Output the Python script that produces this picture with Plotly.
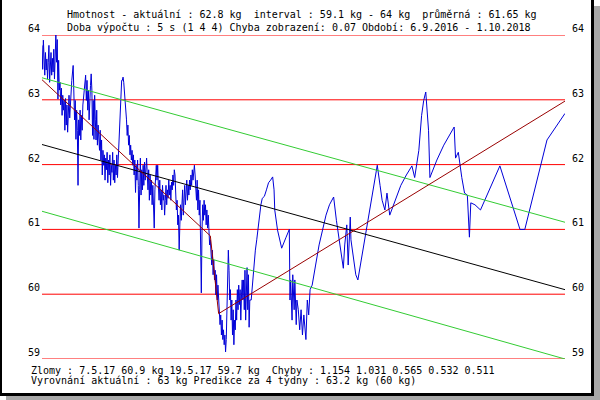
import pandas as pd
import plotly.graph_objects as go

START = "2016-09-06"
END = "2018-10-01"

# measured weight: day offset from start, kg
days = [0,1,2,3,4,5,6,7,8,9,10,11,12,13,14,15,16,17,18,19,20,21,22,23,24,
        25,26,27,28,29,30,31,32,33,34,35,36,37,38,39,40,41,43,45,46,47,48,49,50,51,52,53,54,55,56,57,58,59,61,63,64,65,66,67,68,69,70,71,72,73,74,75,76,77,78,79,80,81,82,
        83,84,85,86,87,88,89,90,91,92,93,94,95,96,97,98,99,100,101,102,103,104,105,106,107,108,109,110,111,112,113,114,115,
        116,117,118,119,120,121,122,123,124,125,126,127,128,129,130,131,132,133,134,135,136,137,138,139,140,141,142,
        143,144,145,146,147,148,149,150,151,152,153,154,155,156,157,158,159,160,161,162,163,164,165,166,167,168,169,170,171,172,173,174,175,176,177,178,179,180,181,182,183,184,185,186,187,188,189,190,191,192,193,194,195,196,197,198,199,200,201,202,203,204,205,206,207,208,209,210,211,212,213,214,215,216,217,218,219,220,221,222,223,224,225,226,227,228,229,230,231,232,233,234,235,236,237,238,239,240,241,242,243,244,245,246,247,248,249,250,251,252,253,254,255,256,257,258,259,260,261,262,263,264,265,266,267,268,269,270,271,272,273,274,275,276,277,278,279,280,281,282,283,284,285,286,287,288,289,290,291,292,293,294,295,296,297,298,299,300,
        302,304,306,308,310,312,314,316,318,321,324,327,330,333,335,336,340,346,352,357,358,359,361,362,364,365,367,368,370,372,374,376,378,381,383,385,387,390,395,400,405,410,415,421,425,429,433,435,437,440,442,444,445,446,450,453,456,462,468,474,479,484,488,491,495,498,502,510,518,526,534,538,541,544,548,551,554,556,558,560,570,580,590,595,597,601,606,610,614,617,619,625,633,661,690,697,729,755]
kg = [63.84,63.47,63.92,63.61,63.38,63.73,63.46,63.63,63.32,63.58,63.84,63.27,63.61,63.73,63.38,63.64,63.43,63.78,63.32,63.86,64.0,63.58,63.93,63.01,63.61,
      63.15,63.27,62.92,63.18,62.76,63.07,62.84,62.99,62.53,63.02,62.61,62.92,62.50,62.81,63.07,62.72,62.99,63.30,63.53,63.15,62.69,62.99,62.39,62.84,62.53,61.68,62.69,62.45,62.84,62.38,62.76,62.53,62.92,63.15,63.38,62.99,63.30,62.84,63.15,62.69,63.07,63.22,63.40,63.15,62.45,62.99,62.39,63.07,62.69,62.38,62.84,62.30,62.61,62.38,
      62.22,62.53,62.07,62.38,61.84,62.22,61.99,62.15,61.76,62.10,61.92,62.19,61.72,62.07,61.84,62.15,61.68,61.99,61.88,62.19,61.76,62.07,61.72,61.99,61.84,62.15,61.80,62.07,62.38,62.69,62.99,63.22,63.30,
      63.30,63.35,63.27,63.15,62.99,62.84,62.69,62.45,62.61,62.30,62.45,62.15,62.30,62.07,62.22,61.99,62.15,61.84,62.07,61.57,61.99,61.76,62.07,61.68,61.02,61.61,62.10,
      61.53,61.92,61.61,61.99,61.68,62.04,61.76,62.07,62.10,61.84,61.61,61.92,61.45,61.84,61.53,61.76,61.38,61.68,61.45,61.02,61.61,61.84,61.99,61.76,61.99,61.68,61.45,61.76,61.38,61.61,61.30,61.68,61.45,61.53,61.22,61.45,61.68,61.38,61.61,61.48,61.76,61.53,61.68,61.45,61.73,61.61,61.84,61.68,61.92,61.84,61.53,61.30,61.45,61.07,61.22,60.68,61.07,61.38,61.14,61.38,61.61,61.22,61.45,61.68,61.38,61.61,61.76,61.45,61.68,61.53,61.76,61.61,61.84,61.68,61.92,61.76,61.95,61.99,61.84,61.68,61.45,61.76,61.30,61.61,61.22,61.45,60.84,60.02,60.99,61.38,61.14,61.45,61.22,61.38,61.07,61.30,61.02,61.22,60.99,60.76,60.84,60.61,60.45,60.68,60.30,60.53,60.22,60.37,59.99,60.30,59.91,60.14,59.84,59.76,59.53,59.68,59.37,59.60,59.30,59.45,59.22,59.37,59.11,59.30,59.91,60.37,60.68,60.37,59.91,60.07,59.60,59.91,59.37,59.76,59.22,59.60,59.45,59.91,59.60,60.07,59.76,60.14,59.84,60.07,59.60,59.99,60.22,59.91,60.22,59.76,60.37,59.60,60.22,60.41,59.76,60.30,59.49,59.91,
      59.91,60.22,60.45,60.68,60.84,61.02,61.22,61.38,61.48,61.51,61.61,61.72,61.76,61.81,61.61,61.30,60.99,60.71,60.87,61.00,59.91,60.22,59.60,60.30,59.76,60.22,59.53,59.91,59.76,59.45,59.76,59.37,59.68,59.30,59.91,59.68,60.07,60.14,60.45,60.76,60.99,61.22,61.38,61.50,61.14,60.84,60.61,60.40,60.76,61.07,60.45,61.14,61.19,60.84,60.53,60.30,60.22,60.61,60.99,61.38,61.68,61.99,61.68,61.45,61.30,61.56,61.22,61.45,61.68,61.84,61.98,61.80,61.98,62.22,62.76,62.99,63.12,62.84,62.53,61.80,62.07,62.30,62.50,62.58,62.10,62.19,61.80,61.56,61.53,60.88,61.41,61.38,61.30,61.98,61.00,61.00,62.38,62.79]

# trend and band lines
trend_dates = [START, END]
trend_mid = [62.31, 60.07]
trend_upper = [63.34, 61.11]
trend_lower = [61.28, 59.00]

# broken (piecewise) smoothing line
broken_dates = [START, "2017-05-07", "2017-05-19", END]
broken_kg = [63.31, 60.9, 59.7, 62.98]

grid_levels = [59, 60, 61, 62, 63, 64]

header1 = "Hmotnost - aktuální : 62.8 kg  interval : 59.1 kg - 64 kg  průměrná : 61.65 kg"
header2 = "Doba výpočtu : 5 s (1 4 4) Chyba zobrazení: 0.07 Období: 6.9.2016 - 1.10.2018"
footer1 = "Zlomy : 7.5.17 60.9 kg 19.5.17 59.7 kg  Chyby : 1.154 1.031 0.565 0.532 0.511"
footer2 = "Vyrovnání aktuální : 63 kg Predikce za 4 týdny : 63.2 kg (60 kg)"

dates = pd.to_datetime(START) + pd.to_timedelta(days, unit="D")

FONT = dict(family="DejaVu Sans Mono", size=10, color="black")

fig = go.Figure()
fig.add_trace(go.Scatter(x=dates, y=kg, mode="lines",
                         line=dict(color="#0000d8", width=1), hoverinfo="skip"))
fig.add_trace(go.Scatter(x=trend_dates, y=trend_mid, mode="lines",
                         line=dict(color="black", width=1)))
fig.add_trace(go.Scatter(x=trend_dates, y=trend_upper, mode="lines",
                         line=dict(color="#33cc33", width=1)))
fig.add_trace(go.Scatter(x=trend_dates, y=trend_lower, mode="lines",
                         line=dict(color="#33cc33", width=1)))
fig.add_trace(go.Scatter(x=broken_dates, y=broken_kg, mode="lines",
                         line=dict(color="#990000", width=1)))

L, R, T, B = 42, 35, 35, 41
W, H = 600, 400
pw, ph = W - L - R, H - T - B


def px(xp):
    return (xp - L) / pw


def py(yp):
    return (H - B - yp) / ph


shapes = []
for lv in grid_levels:
    shapes.append(dict(type="line", xref="paper", yref="y", x0=0, x1=1, y0=lv, y1=lv,
                       line=dict(color="#ff0000", width=1), layer="below"))


def rect(x0, y0, x1, y1, color):
    return dict(type="rect", xref="paper", yref="paper",
                x0=px(x0), x1=px(x1), y0=py(y0), y1=py(y1),
                fillcolor=color, line=dict(width=0), layer="above")


shapes += [
    rect(0, 0, 2, 396, "black"),
    rect(591, 0, 594, 396, "black"),
    rect(0, 393, 594, 396, "black"),
    rect(594, 6, 600, 400, "#a8a8a8"),
    rect(6, 396, 600, 400, "#a8a8a8"),
]

ann = []
for lv in grid_levels:
    ann.append(dict(xref="paper", yref="y", x=0, y=lv, text=str(lv), showarrow=False,
                    xanchor="right", yanchor="bottom", xshift=0, yshift=-1, font=FONT))
    ann.append(dict(xref="paper", yref="y", x=1, y=lv, text=str(lv), showarrow=False,
                    xanchor="left", yanchor="bottom", xshift=5, yshift=-1, font=FONT))


def nb(s):
    return s.replace("  ", " \u00a0")


ann += [
    dict(xref="paper", yref="paper", x=0, y=1, xshift=23, yshift=21, text=nb(header1),
         showarrow=False, xanchor="left", yanchor="middle", font=FONT),
    dict(xref="paper", yref="paper", x=0, y=1, xshift=23, yshift=8, text=nb(header2),
         showarrow=False, xanchor="left", yanchor="middle", font=FONT),
    dict(xref="paper", yref="paper", x=0, y=0, xshift=-13, yshift=-11, text=nb(footer1),
         showarrow=False, xanchor="left", yanchor="middle", font=FONT),
    dict(xref="paper", yref="paper", x=0, y=0, xshift=-13, yshift=-21, text=nb(footer2),
         showarrow=False, xanchor="left", yanchor="middle", font=FONT),
]

fig.update_layout(
    width=W, height=H,
    margin=dict(l=L, r=R, t=T, b=B, pad=0),
    paper_bgcolor="white", plot_bgcolor="white",
    showlegend=False,
    xaxis=dict(type="date", range=[START, END], visible=False, fixedrange=True),
    yaxis=dict(range=[59, 64], visible=False, fixedrange=True),
    shapes=shapes, annotations=ann,
)

fig.write_html("out.html", config={"displayModeBar": False},
               post_script="document.body.style.margin='0';document.body.style.overflow='hidden';")
